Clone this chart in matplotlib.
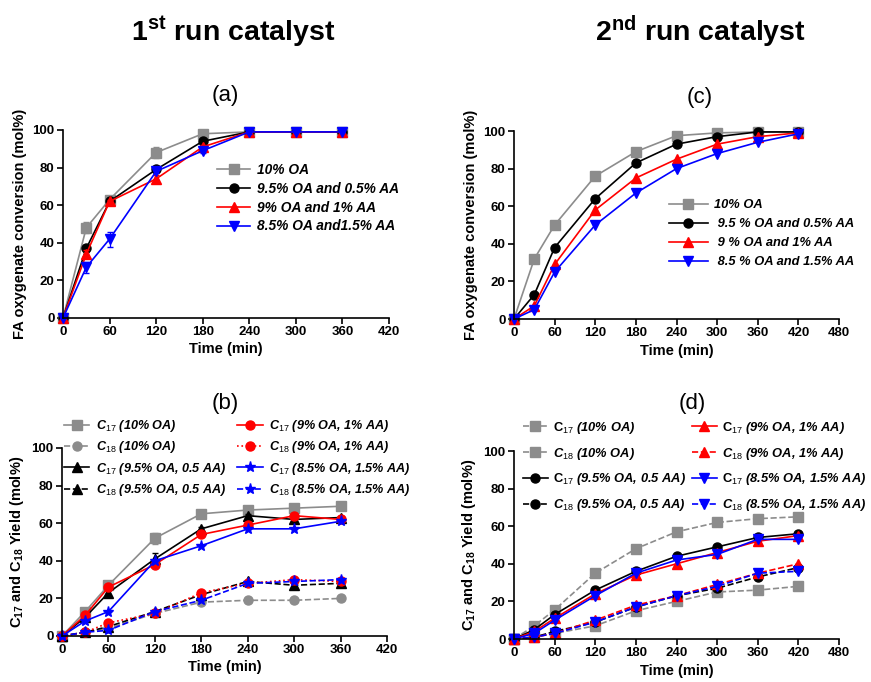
import numpy as np
import matplotlib
matplotlib.use("Agg")
import matplotlib.pyplot as plt

plt.rcParams['font.family'] = ['Liberation Sans', 'DejaVu Sans']
plt.rcParams['mathtext.fontset'] = 'custom'
plt.rcParams['mathtext.rm'] = 'Liberation Sans'
plt.rcParams['mathtext.bf'] = 'Liberation Sans:weight=bold'
plt.rcParams['mathtext.it'] = 'Liberation Sans:style=italic:weight=bold'
plt.rcParams['mathtext.sf'] = 'Liberation Sans:weight=bold'

# ---------------- data ----------------
# (a) 1st run, conversion
t1 = [0, 30, 60, 120, 180, 240, 300, 360]
a_oa10 = [0, 48, 63, 88, 98, 99, 99, 99]
a_oa95 = [0, 37, 62, 79, 94, 99, 99, 99]
a_oa9 = [0, 34, 62, 74, 91, 99, 99, 99]
a_oa85 = [0, 27, 42, 78, 89, 99, 99, 99]
a_err10 = [0, 3, 2, 3, 1, 0, 0, 0]
a_err95 = [0, 2, 2, 1, 1, 0, 0, 0]
a_err9 = [0, 2, 1, 2, 1, 0, 0, 0]
a_err85 = [0, 3, 4, 1, 1, 1, 0, 0]
a_labels = ['10% OA', '9.5% OA and 0.5% AA', '9% OA and 1% AA', '8.5% OA and1.5% AA']

# (b) 1st run, C17 / C18 yield
b_c17_oa10 = [0, 13, 27, 52, 65, 67, 68, 69]
b_c18_oa10 = [0, 2, 4, 12, 18, 19, 19, 20]
b_c17_oa95 = [0, 10, 23, 41, 57, 64, 62, 63]
b_c18_oa95 = [0, 2, 5, 13, 22, 29, 27, 28]
b_c17_oa9 = [0, 11, 26, 38, 54, 59, 64, 62]
b_c18_oa9 = [0, 2, 7, 12, 23, 28, 30, 29]
b_c17_oa85 = [0, 8, 13, 40, 48, 57, 57, 61]
b_c18_oa85 = [0, 2, 3, 13, 19, 28, 29, 30]
b_err17 = [0, 2, 2, 3, 1, 1, 1, 1]

# (c) 2nd run, conversion
t2 = [0, 30, 60, 120, 180, 240, 300, 360, 420]
c_oa10 = [0, 32, 50, 76, 89, 97.5, 99, 99.5, 99.5]
c_oa95 = [0, 13, 38, 64, 83, 93, 97, 99.5, 99.5]
c_oa9 = [0, 7, 29, 58, 75, 85, 93, 97, 99]
c_oa85 = [0, 5, 25, 50, 67, 80, 88, 94, 98.5]
c_labels = ['10% OA', ' 9.5 % OA and 0.5% AA', ' 9 % OA and 1% AA', ' 8.5 % OA and 1.5% AA']

# (d) 2nd run, C17 / C18 yield
d_c17_oa10 = [0, 7, 15.5, 35, 48, 57, 62, 64, 65]
d_c18_oa10 = [0, 1, 3, 7, 15, 20, 25, 26, 28]
d_c17_oa95 = [0, 5, 13, 26, 36, 44, 49, 54, 56]
d_c18_oa95 = [0, 1, 4, 9, 17, 23, 27, 33, 38]
d_c17_oa9 = [0, 4, 11, 24, 34, 40, 46, 52, 55]
d_c18_oa9 = [0, 1, 3, 10, 18, 23, 29, 35, 40]
d_c17_oa85 = [0, 3, 10, 23, 35, 42, 45, 53, 53]
d_c18_oa85 = [0, 1, 3, 9, 17, 23, 28, 35, 36]

conds_b = ['10% OA', '9.5% OA, 0.5 AA', '9% OA, 1% AA', '8.5% OA, 1.5% AA']

GRAY = '#8c8c8c'

fig = plt.figure(figsize=(8.71, 6.82), dpi=100)
W, H = 871, 682


def make_ax(x0, x1, ytop, ybot):
    return fig.add_axes([x0 / W, 1 - ybot / H, (x1 - x0) / W, (ybot - ytop) / H])


def style(ax, xmax, ylabel):
    ax.set_xlim(0, xmax)
    ax.set_ylim(0, 100)
    ax.set_xticks(np.arange(0, xmax + 1, 60))
    ax.set_yticks(np.arange(0, 101, 20))
    for s in ['top', 'right']:
        ax.spines[s].set_visible(False)
    for s in ['left', 'bottom']:
        ax.spines[s].set_linewidth(1.2)
    ax.tick_params(width=1.2, length=4, labelsize=9.5, pad=2)
    for lab in ax.get_xticklabels() + ax.get_yticklabels():
        lab.set_fontweight('bold')
    ax.set_xlabel('Time (min)', fontsize=10.5, fontweight='bold', labelpad=3)
    ax.set_ylabel(ylabel, fontsize=10.5, fontweight='bold', labelpad=4)


def line(ax, x, y, c, m, ls='-', ms=6.5, yerr=None, lab=None, lw=1.2):
    if yerr is not None:
        ax.errorbar(x, y, yerr=yerr, color=c, marker='none', ls='none',
                    capsize=2.5, elinewidth=0.9, clip_on=False)
    h, = ax.plot(x, y, color=c, marker=m, ls=ls, ms=ms, lw=lw, label=lab, clip_on=False)
    return h


def legend(ax, handles, x, y, size, **kw):
    opts = dict(loc='upper left', bbox_to_anchor=(x / W, 1 - y / H), bbox_transform=fig.transFigure,
                frameon=False, borderpad=0, borderaxespad=0, handletextpad=0.5,
                prop={'weight': 'bold', 'style': 'italic', 'size': size})
    opts.update(kw)
    ax.legend(handles=handles, **opts)


conv_label = 'FA oxygenate conversion (mol%)'
yield_label = r'$\mathbf{C_{17}}$ and $\mathbf{C_{18}}$ Yield (mol%)'

# (a)
ax = make_ax(63, 389, 130, 318)
hs = [line(ax, t1, a_oa10, GRAY, 's', yerr=a_err10, lab=a_labels[0]),
      line(ax, t1, a_oa95, 'black', 'o', yerr=a_err95, lab=a_labels[1]),
      line(ax, t1, a_oa9, 'red', '^', yerr=a_err9, lab=a_labels[2]),
      line(ax, t1, a_oa85, 'blue', 'v', yerr=a_err85, lab=a_labels[3])]
style(ax, 420, conv_label)
legend(ax, hs, 217, 163, 9.9, handlelength=2.4, labelspacing=0.35)

# (b)
ax = make_ax(62, 387, 448, 636)
hs = [line(ax, t1, b_c17_oa10, GRAY, 's', yerr=b_err17, lab=r'$\mathit{C_{17}}$ (' + conds_b[0] + ')'),
      line(ax, t1, b_c18_oa10, GRAY, 'o', ls='--', lab=r'$\mathit{C_{18}}$ (' + conds_b[0] + ')'),
      line(ax, t1, b_c17_oa95, 'black', '^', yerr=b_err17, lab=r'$\mathit{C_{17}}$ (' + conds_b[1] + ')'),
      line(ax, t1, b_c18_oa95, 'black', '^', ls='--', lab=r'$\mathit{C_{18}}$ (' + conds_b[1] + ')'),
      line(ax, t1, b_c17_oa9, 'red', 'o', lab=r'$\mathit{C_{17}}$ (' + conds_b[2] + ')'),
      line(ax, t1, b_c18_oa9, 'red', 'o', ls=':', lab=r'$\mathit{C_{18}}$ (' + conds_b[2] + ')'),
      line(ax, t1, b_c17_oa85, 'blue', '*', ms=8, lab=r'$\mathit{C_{17}}$ (' + conds_b[3] + ')'),
      line(ax, t1, b_c18_oa85, 'blue', '*', ls='--', ms=8, lab=r'$\mathit{C_{18}}$ (' + conds_b[3] + ')')]
style(ax, 420, yield_label)
legend(ax, hs, 64, 418, 9.1, ncol=2, handlelength=2.0, labelspacing=0.42, columnspacing=0.9)

# (c)
ax = make_ax(514, 839, 131, 319)
hs = [line(ax, t2, c_oa10, GRAY, 's', lab=c_labels[0]),
      line(ax, t2, c_oa95, 'black', 'o', lab=c_labels[1]),
      line(ax, t2, c_oa9, 'red', '^', lab=c_labels[2]),
      line(ax, t2, c_oa85, 'blue', 'v', lab=c_labels[3])]
style(ax, 480, conv_label)
legend(ax, hs, 669, 199, 9.3, handlelength=3.0, labelspacing=0.55)

# (d)
ax = make_ax(514, 839, 451, 639)
hs = [line(ax, t2, d_c17_oa10, GRAY, 's', ls='--', lab=r'$\mathbf{C}_{\mathit{17}}$ (' + conds_b[0] + ')'),
      line(ax, t2, d_c18_oa10, GRAY, 's', ls='--', lab=r'$\mathit{C_{18}}$ (' + conds_b[0] + ')'),
      line(ax, t2, d_c17_oa95, 'black', 'o', lab=r'$\mathbf{C}_{\mathit{17}}$ (' + conds_b[1] + ')'),
      line(ax, t2, d_c18_oa95, 'black', 'o', ls='--', lab=r'$\mathit{C_{18}}$ (' + conds_b[1] + ')'),
      line(ax, t2, d_c17_oa9, 'red', '^', lab=r'$\mathbf{C}_{\mathit{17}}$ (' + conds_b[2] + ')'),
      line(ax, t2, d_c18_oa9, 'red', '^', ls='--', lab=r'$\mathit{C_{18}}$ (' + conds_b[2] + ')'),
      line(ax, t2, d_c17_oa85, 'blue', 'v', lab=r'$\mathbf{C}_{\mathit{17}}$ (' + conds_b[3] + ')'),
      line(ax, t2, d_c18_oa85, 'blue', 'v', ls='--', lab=r'$\mathit{C_{18}}$ (' + conds_b[3] + ')')]
style(ax, 480, yield_label)
legend(ax, hs, 523, 420, 9.3, ncol=2, handlelength=1.9, labelspacing=0.75,
       handletextpad=0.4, columnspacing=0.5)

# headings
fig.text(233 / W, 1 - 32 / H, r'1$^{\mathbf{st}}$ run catalyst', ha='center', va='center',
         fontsize=20.5, fontweight='bold')
fig.text(700 / W, 1 - 32 / H, r'2$^{\mathbf{nd}}$ run catalyst', ha='center', va='center',
         fontsize=20.5, fontweight='bold')
for x, y, s in [(225, 96, '(a)'), (700, 97, '(c)'), (225, 403, '(b)'), (692, 403, '(d)')]:
    fig.text(x / W, 1 - y / H, s, ha='center', va='center', fontsize=16)

fig.savefig('out.png', dpi=100)
